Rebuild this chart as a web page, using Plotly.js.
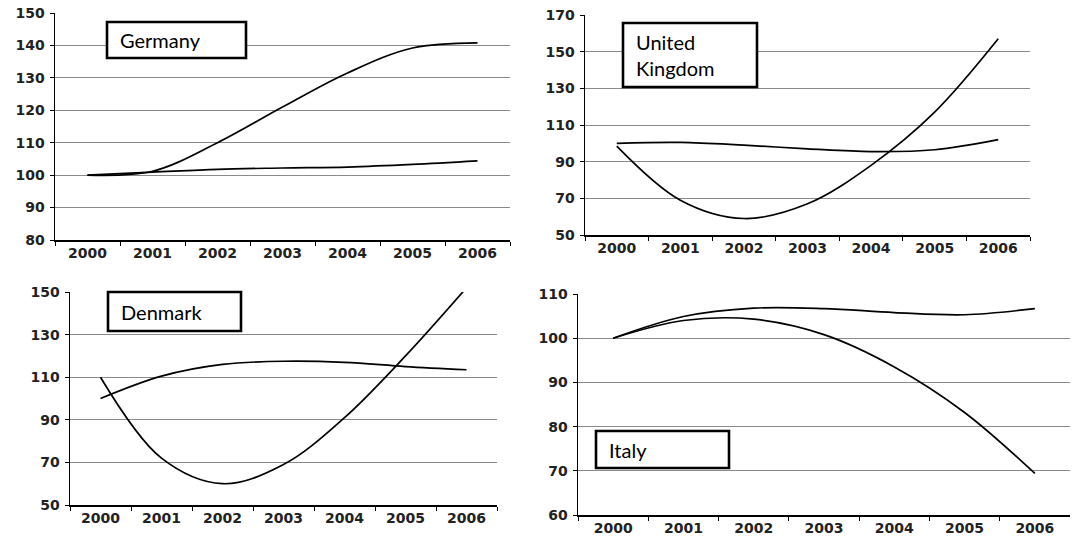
<!DOCTYPE html>
<html>
<head>
<meta charset="utf-8">
<script src="https://cdn.plot.ly/plotly-3.0.1.min.js"></script>
<style>html,body{margin:0;padding:0;background:#fff;}#chart{width:1080px;height:540px;}</style>
</head>
<body>
<div id="chart"></div>
<script>
// ---- data ----
const years = ['2000','2001','2002','2003','2004','2005','2006'];

const germanyA = [100, 101.2, 110, 121, 131.5, 139.2, 140.8];
const germanyB = [100, 100.9, 101.8, 102.2, 102.5, 103.3, 104.4];

const ukA = [98.5, 69, 59, 67, 88, 117, 157];
const ukB = [100, 100.5, 99, 97, 95.5, 96.5, 102];

const denmarkA = [110, 72, 60, 69, 91, 120, 152];
const denmarkB = [100, 110.5, 116, 117.5, 117, 115, 113.5];

const italyA = [100, 104, 104.3, 100.8, 93.5, 83.2, 69.4];
const italyB = [100, 104.9, 106.8, 106.7, 105.8, 105.3, 106.7];

const germanyTicks = [80, 90, 100, 110, 120, 130, 140, 150];
const ukTicks = [50, 70, 90, 110, 130, 150, 170];
const denmarkTicks = [50, 70, 90, 110, 130, 150];
const italyTicks = [60, 70, 80, 90, 100, 110];

const labels = ['Germany', 'United<br>Kingdom', 'Denmark', 'Italy'];

// ---- layout helpers ----
const W = 1080, H = 540;
const px = v => v / W;
const py = v => 1 - v / H;

const tickFont = {family: 'DejaVu Sans', size: 14, color: '#222', weight: 'bold'};
const lineStyle = {color: '#000', width: 1.7, shape: 'spline', smoothing: 1};

function line(x, y, xa, ya) {
  return {x: x, y: y, xaxis: xa, yaxis: ya, type: 'scatter', mode: 'lines',
          line: lineStyle, hoverinfo: 'skip', showlegend: false};
}

const data = [
  line(years, germanyA, 'x', 'y'),
  line(years, germanyB, 'x', 'y'),
  line(years, ukA, 'x2', 'y2'),
  line(years, ukB, 'x2', 'y2'),
  line(years, denmarkA, 'x3', 'y3'),
  line(years, denmarkB, 'x3', 'y3'),
  line(years, italyA, 'x4', 'y4'),
  line(years, italyB, 'x4', 'y4')
];

function xax(domain, anchor) {
  return {domain: domain, anchor: anchor, type: 'category', categoryarray: years,
          range: [-0.5, 6.5], tickson: 'boundaries', ticks: 'outside', ticklen: 4,
          tickcolor: '#000', showline: true, linecolor: '#000', linewidth: 1.5,
          showgrid: false, zeroline: false, tickfont: tickFont, fixedrange: true};
}
function yax(domain, anchor, ticks) {
  return {domain: domain, anchor: anchor, range: [ticks[0], ticks[ticks.length - 1]],
          tickvals: ticks, ticks: 'outside', ticklen: 4, tickcolor: '#000',
          showline: true, linecolor: '#000', linewidth: 1.5,
          showgrid: true, gridcolor: '#8a8a8a', gridwidth: 1,
          zeroline: false, tickfont: tickFont, ticklabelstandoff: 2, fixedrange: true};
}

const boxes = [
  [107, 22, 246, 58],
  [623, 23, 757, 87],
  [108, 292, 241, 331],
  [596, 431, 729, 468]
];

const shapes = boxes.map(b => ({type: 'rect', xref: 'paper', yref: 'paper',
  x0: px(b[0]), x1: px(b[2]), y0: py(b[3]), y1: py(b[1]),
  fillcolor: '#fff', line: {color: '#000', width: 2.6}, layer: 'above'}));

const annotations = boxes.map((b, i) => ({xref: 'paper', yref: 'paper',
  x: px(b[0] + 11), y: py((b[1] + b[3]) / 2), xanchor: 'left', yanchor: 'middle',
  text: labels[i], showarrow: false, align: 'left',
  font: {family: 'Lato', size: 20, color: '#000'}}));

const layout = {
  width: W, height: H,
  margin: {l: 0, r: 0, t: 0, b: 0},
  paper_bgcolor: '#fff', plot_bgcolor: '#fff',
  showlegend: false,
  xaxis: xax([px(55), px(510)], 'y'),
  yaxis: yax([py(240), py(13)], 'x', germanyTicks),
  xaxis2: xax([px(585), px(1030)], 'y2'),
  yaxis2: yax([py(235), py(15)], 'x2', ukTicks),
  xaxis3: xax([px(70), px(497)], 'y3'),
  yaxis3: yax([py(505), py(292)], 'x3', denmarkTicks),
  xaxis4: xax([px(578), px(1070)], 'y4'),
  yaxis4: yax([py(515), py(294)], 'x4', italyTicks),
  shapes: shapes,
  annotations: annotations
};

Plotly.newPlot('chart', data, layout, {displayModeBar: false, staticPlot: true});
</script>
</body>
</html>
